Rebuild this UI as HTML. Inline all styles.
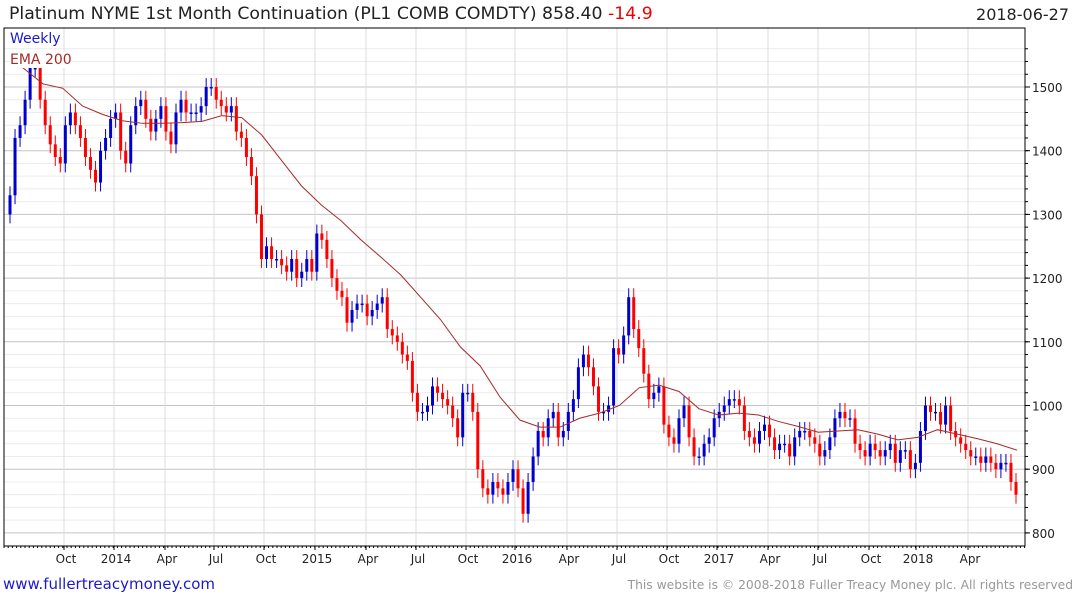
<!DOCTYPE html>
<html><head><meta charset="utf-8"><style>
body{margin:0;background:#fff;width:1075px;height:600px;overflow:hidden;font-family:"DejaVu Sans","Liberation Sans",sans-serif}
svg{display:block}
</style></head><body>
<svg id="c" width="1075" height="600" font-family="DejaVu Sans, Liberation Sans, sans-serif"></svg>
<script>
const closes=[1330,1420,1440,1480,1530,1530,1480,1440,1410,1390,1380,1440,1460,1440,1420,1390,1370,1350,1400,1420,1450,1460,1400,1380,1440,1470,1480,1450,1430,1450,1470,1430,1410,1460,1480,1460,1460,1460,1470,1500,1500,1480,1470,1460,1470,1430,1420,1390,1360,1300,1230,1250,1230,1230,1220,1210,1230,1200,1210,1230,1210,1270,1260,1230,1200,1180,1170,1130,1150,1160,1160,1140,1150,1160,1170,1120,1110,1100,1080,1070,1020,990,990,1000,1030,1020,1010,1000,980,950,1020,1020,990,900,870,860,880,870,860,880,900,870,830,880,920,960,950,980,990,950,960,990,1010,1060,1080,1060,1030,990,990,1000,1090,1080,1110,1170,1120,1090,1050,1010,1020,1030,970,950,940,980,1000,950,920,920,940,950,980,990,1000,1010,1010,1000,960,950,940,960,970,950,930,940,940,920,950,960,960,950,940,920,930,950,980,990,980,980,940,930,920,940,930,920,930,940,910,930,930,900,910,960,1000,990,990,970,1000,960,950,940,930,920,920,910,920,910,900,910,910,880,860];
const ema=[1530,1505,1498,1470,1457,1447,1443,1443,1444,1446,1455,1452,1425,1385,1345,1315,1290,1260,1233,1205,1170,1135,1092,1062,1013,977,966,966,980,988,1000,1028,1032,1022,995,985,988,985,975,967,958,960,962,955,946,950,962,955,948,940,930];
const yTicks=[800,900,1000,1100,1200,1300,1400,1500];
const xLabels=["Oct","2014","Apr","Jul","Oct","2015","Apr","Jul","Oct","2016","Apr","Jul","Oct","2017","Apr","Jul","Oct","2018","Apr"];
const xLabelPos=[66,116,167,216,266,317,368,418,468,517,569,619,669,719,770,820,871,918,970];

const NS="http://www.w3.org/2000/svg";
const svg=document.getElementById('c');
const L=4,R=1025,T=28,B=546;
const y=v=>87+(1500-v)*0.637;
const xi=i=>10+i*(1006/(closes.length-1));
function mk(t,a,p){const e=document.createElementNS(NS,t);for(const k in a)e.setAttribute(k,a[k]);(p||svg).appendChild(e);return e;}

for(let v=800;v<=1560;v+=20){const g=mk('line',{x1:L,x2:R,y1:y(v),y2:y(v),stroke:v%100?'#ececec':'#c4c4c4','stroke-width':1});

}
xLabelPos.forEach((p,i)=>{const g=mk('line',{x1:p-2,x2:p-2,y1:T,y2:B,stroke:'#dcdcdc'});


const t=mk('text',{x:p,y:563,'font-size':12,'text-anchor':'middle',fill:'#222'});t.textContent=xLabels[i];


mk('line',{x1:p-2,x2:p-2,y1:B,y2:B+4,stroke:'#000'});});
yTicks.forEach(v=>{const t=mk('text',{x:1032,y:y(v)+5,'font-size':12,fill:'#222'});t.textContent=v;


mk('line',{x1:R,x2:R+5,y1:y(v),y2:y(v),stroke:'#000'});});
for(let v=800;v<=1560;v+=20)mk('line',{x1:R,x2:R+3,y1:y(v),y2:y(v),stroke:'#000'});
for(let x=L;x<R;x+=4.2)mk('line',{x1:x,x2:x,y1:B,y2:B+2,stroke:'#000'});

closes.forEach((c,i)=>{const o=i?closes[i-1]:1300;const up=c>=o;const col=up?'#0000cc':'#ff0000';
const hi=Math.max(o,c)+14,lo=Math.min(o,c)-14;const x=xi(i);
const w=mk('line',{x1:x,x2:x,y1:y(hi),y2:y(lo),stroke:col,'stroke-width':1});


const top=y(Math.max(o,c)),h=Math.max(1.5,Math.abs(y(o)-y(c)));
const b=mk('rect',{x:x-1.5,y:top,width:3,height:h,fill:col});

});

const ex0=23,ex1=1017;
const pts=ema.map((v,i)=>(ex0+i*(ex1-ex0)/(ema.length-1))+','+y(v)).join(' ');
const pl=mk('polyline',{points:pts,fill:'none',stroke:'#a52a2a','stroke-width':1});



mk('rect',{x:L,y:T,width:R-L,height:B-T,fill:'none',stroke:'#000','stroke-width':1});
</script>
<div style="position:absolute;left:9px;top:4px;font-size:17.3px;color:#222;white-space:nowrap">Platinum NYME 1st Month Continuation (PL1 COMB COMDTY) 858.40 <span style="color:#e00">-14.9</span></div>
<div style="position:absolute;right:6px;top:5px;font-size:16px;color:#222">2018-06-27</div>
<div style="position:absolute;left:10px;top:31px;font-size:14px;color:#1a1acc;background:#fff">Weekly</div>
<div style="position:absolute;left:10px;top:52px;font-size:14px;color:#a52a2a;background:#fff">EMA 200</div>
<div style="position:absolute;left:3px;top:575px;font-size:15px;color:#1a1acc;white-space:nowrap">www.fullertreacymoney.com</div>
<div style="position:absolute;right:2px;top:578px;font-size:12.3px;color:#999;white-space:nowrap">This website is © 2008-2018 Fuller Treacy Money plc. All rights reserved</div>
</body></html>
